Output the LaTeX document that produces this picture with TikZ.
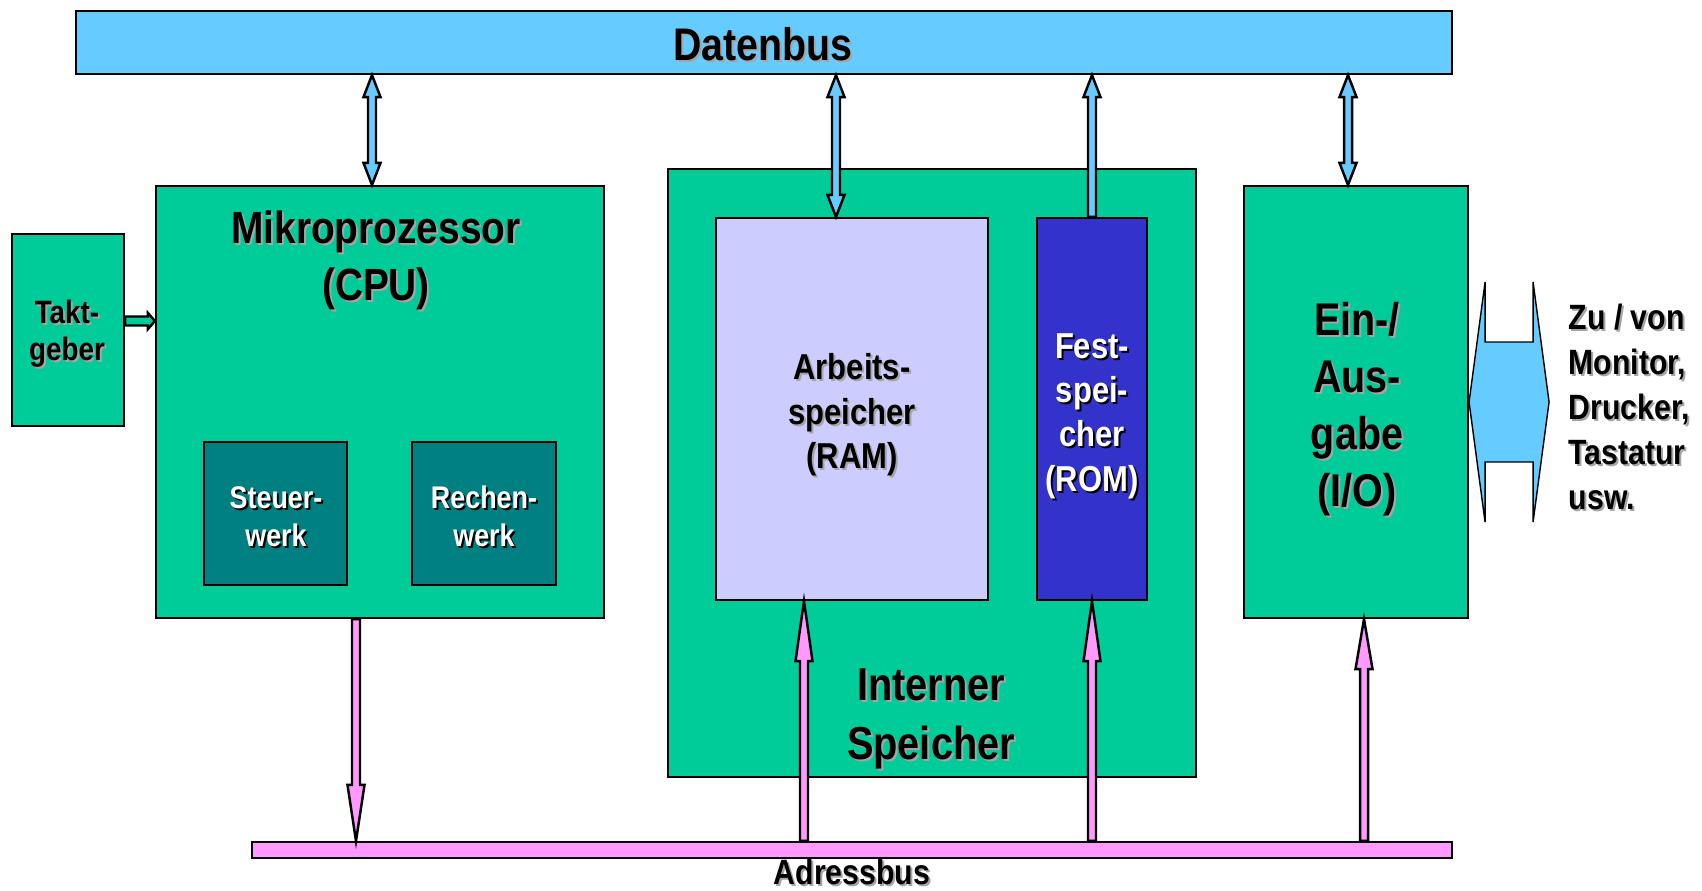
\documentclass[tikz,border=0pt]{standalone}
\usepackage{fontspec}
\setmainfont{Liberation Sans}[FakeStretch=0.86]
\usetikzlibrary{calc}

\definecolor{busblue}{RGB}{102,204,255}
\definecolor{boxgreen}{RGB}{0,204,153}
\definecolor{unitteal}{RGB}{0,128,128}
\definecolor{ramlila}{RGB}{204,204,255}
\definecolor{romblue}{RGB}{51,51,204}
\definecolor{addrpink}{RGB}{255,153,255}
\definecolor{shadowgray}{RGB}{165,165,165}

\tikzset{
  block/.style={draw, line width=0.6pt, inner sep=0pt},
  bararrow/.style={draw, line width=0.7pt, line join=miter},
  lbl/.style={align=center, inner sep=0pt},
  fs/.style 2 args={font=\bfseries\fontsize{#1}{#2}\selectfont},
}

% text with a drop shadow: style, name, position, colour, shadow colour, text
\newcommand\shlabel[6]{%
  \node[lbl, #1, text=#5] (#2-s) at ($(#3)+(2,2)$) {#6};
  \node[lbl, #1, text=#4] (#2) at (#3) {#6};}

% block arrow with one head: fill, tail, tip, head length (signed)
\newcommand\busarrow[4]{%
  \filldraw[bararrow, fill=#1] let \p1=(#2), \p2=(#3), \n1={#4} in
    (\x2-0.4mm,\y1) -- (\x2-0.4mm,{\y2-\n1}) -- (\x2-0.85mm,{\y2-\n1}) -- (\x2,\y2)
    -- (\x2+0.85mm,{\y2-\n1}) -- (\x2+0.4mm,{\y2-\n1}) -- (\x2+0.4mm,\y1) -- cycle;}

% block arrow with two heads: upper tip, lower tip
\newcommand\dataarrow[2]{%
  \filldraw[bararrow, fill=busblue] let \p1=(#1), \p2=(#2) in
    (\x1,\y1) -- (\x1+0.85mm,\y1-2.2mm) -- (\x1+0.4mm,\y1-2.2mm)
    -- (\x1+0.4mm,\y2+2.2mm) -- (\x1+0.85mm,\y2+2.2mm) -- (\x1,\y2)
    -- (\x1-0.85mm,\y2+2.2mm) -- (\x1-0.4mm,\y2+2.2mm)
    -- (\x1-0.4mm,\y1-2.2mm) -- (\x1-0.85mm,\y1-2.2mm) -- cycle;}

\begin{document}
\begin{tikzpicture}[x=0.1mm, y=-0.1mm]
  \useasboundingbox (0,0) rectangle (1702,890);

  \node[block, fill=busblue, minimum width=137.6mm, minimum height=6.3mm] (databus) at (764,42.5) {};
  \node[block, fill=addrpink, minimum width=120mm, minimum height=1.6mm] (addrbus) at (852,850) {};

  \node[block, fill=boxgreen, minimum width=11.2mm, minimum height=19.2mm] (takt) at (68,330) {};
  \node[block, fill=boxgreen, minimum width=44.8mm, minimum height=43.2mm] (cpu) at (380,402) {};
  \node[block, fill=unitteal, minimum width=14.3mm, minimum height=14.3mm] (steuer) at (275.5,513.5) {};
  \node[block, fill=unitteal, minimum width=14.4mm, minimum height=14.3mm] (rechen) at (484,513.5) {};
  \node[block, fill=boxgreen, minimum width=52.8mm, minimum height=60.8mm] (intmem) at (932,473) {};
  \node[block, fill=ramlila, minimum width=27.2mm, minimum height=38.2mm] (ram) at (852,409) {};
  \node[block, fill=romblue, minimum width=11mm, minimum height=38.2mm] (rom) at (1092,409) {};
  \node[block, fill=boxgreen, minimum width=22.4mm, minimum height=43.2mm] (io) at (1356,402) {};

  % Datenbus
  \dataarrow{databus.south -| 372,0}{cpu.north -| 372,0}
  \dataarrow{databus.south -| 836,0}{ram.north -| 836,0}
  \dataarrow{databus.south -| 1348,0}{io.north -| 1348,0}
  \busarrow{busblue}{rom.north}{databus.south -| rom.north}{2.2mm}

  % Adressbus
  \busarrow{addrpink}{cpu.south -| 356,0}{addrbus.north -| 356,0}{-5.6mm}
  \busarrow{addrpink}{addrbus.north -| 804,0}{ram.south -| 804,0}{6mm}
  \busarrow{addrpink}{addrbus.north -| rom.south}{rom.south}{6mm}
  \busarrow{addrpink}{addrbus.north -| 1364,0}{io.south -| 1364,0}{5mm}

  % Takt
  \coordinate (clk) at (0,321);
  \filldraw[bararrow, fill=boxgreen] let \p1=(takt.east |- clk), \p2=(cpu.west |- clk) in
    (\x1,\y1+0.45mm) -- (\x2-0.7mm,\y1+0.45mm) -- (\x2-0.7mm,\y1+0.8mm) -- (\x2,\y1)
    -- (\x2-0.7mm,\y1-0.8mm) -- (\x2-0.7mm,\y1-0.45mm) -- (\x1,\y1-0.45mm) -- cycle;

  % Ein-/Ausgabe nach aussen
  \filldraw[fill=busblue, line width=0.4pt] (io.east) -- ++(16,-120) -- ++(0,60) -- ++(48,0)
    -- ++(0,-60) -- ++(16,120) -- ++(-16,120) -- ++(0,-60) -- ++(-48,0) -- ++(0,60) -- cycle;

  \shlabel{fs={13}{16}}{datenbus-t}{763,44.5}{black}{shadowgray}{Datenbus}
  \shlabel{fs={12.85}{16.2}}{cpu-t}{376,260.5}{black}{shadowgray}{Mikroprozessor\\(CPU)}
  \shlabel{fs={9.2}{10.5}}{takt-t}{67,334}{black}{shadowgray}{Takt-\\geber}
  \shlabel{fs={8.9}{10.8}}{steuer-t}{276,516.5}{white}{black}{Steuer-\\werk}
  \shlabel{fs={8.9}{10.8}}{rechen-t}{484,516.5}{white}{black}{Rechen-\\werk}
  \shlabel{fs={10.25}{12.7}}{ram-t}{852,415}{black}{shadowgray}{Arbeits-\\speicher\\(RAM)}
  \shlabel{fs={10.25}{12.6}}{rom-t}{1092,416}{white}{black}{Fest-\\spei-\\cher\\(ROM)}
  \shlabel{fs={13.05}{16.2}}{io-t}{1357,409}{black}{shadowgray}{Ein-/\\Aus-\\gabe\\(I/O)}
  \shlabel{fs={13.15}{16.8}}{intmem-t}{931,718.5}{black}{shadowgray}{Interner\\Speicher}
  \shlabel{fs={10}{12}, anchor=base, text depth=0pt}{addrbus-t}{852,884}{black}{shadowgray}{Adressbus}
  \shlabel{fs={10}{12.8}, anchor=west, align=left}{extern-t}{1568,406.5}{black}{shadowgray}{Zu / von\\Monitor,\\Drucker,\\Tastatur\\usw.}
\end{tikzpicture}
\end{document}
